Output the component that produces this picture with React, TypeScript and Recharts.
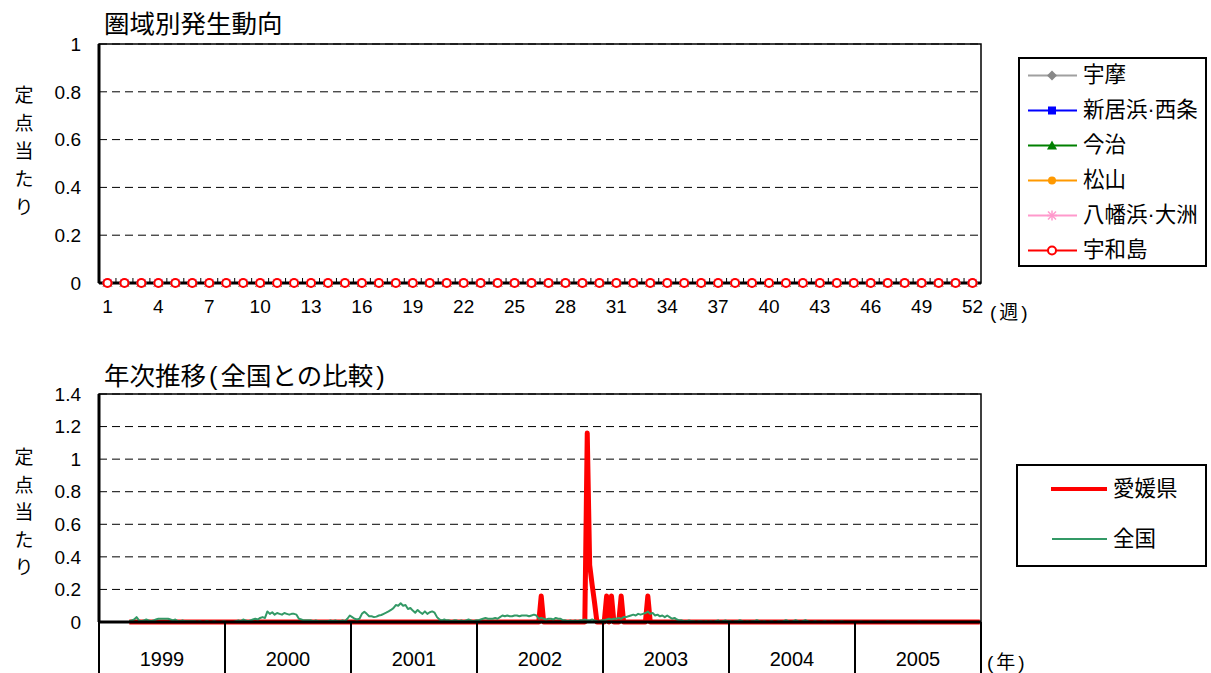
import React from "react";
import { CartesianGrid, Line, LineChart, ReferenceArea, XAxis, YAxis } from "recharts";

const FONT = '"Liberation Sans", "Noto Sans CJK JP", sans-serif';

// ---- 圏域別発生動向 (週別, 全圏域とも 0) ----
const WEEKS = [
  1, 2, 3, 4, 5, 6, 7, 8, 9, 10, 11, 12, 13, 14, 15, 16, 17, 18, 19, 20, 21, 22, 23, 24, 25, 26,
  27, 28, 29, 30, 31, 32, 33, 34, 35, 36, 37, 38, 39, 40, 41, 42, 43, 44, 45, 46, 47, 48, 49, 50, 51, 52,
];
const AREA_NAMES = ["宇摩", "新居浜·西条", "今治", "松山", "八幡浜·大洲", "宇和島"];
const UMA = [
  0, 0, 0, 0, 0, 0, 0, 0, 0, 0, 0, 0, 0, 0, 0, 0, 0, 0, 0, 0, 0, 0, 0, 0, 0, 0,
  0, 0, 0, 0, 0, 0, 0, 0, 0, 0, 0, 0, 0, 0, 0, 0, 0, 0, 0, 0, 0, 0, 0, 0, 0, 0,
];
const NIIHAMA_SAIJO = [
  0, 0, 0, 0, 0, 0, 0, 0, 0, 0, 0, 0, 0, 0, 0, 0, 0, 0, 0, 0, 0, 0, 0, 0, 0, 0,
  0, 0, 0, 0, 0, 0, 0, 0, 0, 0, 0, 0, 0, 0, 0, 0, 0, 0, 0, 0, 0, 0, 0, 0, 0, 0,
];
const IMABARI = [
  0, 0, 0, 0, 0, 0, 0, 0, 0, 0, 0, 0, 0, 0, 0, 0, 0, 0, 0, 0, 0, 0, 0, 0, 0, 0,
  0, 0, 0, 0, 0, 0, 0, 0, 0, 0, 0, 0, 0, 0, 0, 0, 0, 0, 0, 0, 0, 0, 0, 0, 0, 0,
];
const MATSUYAMA = [
  0, 0, 0, 0, 0, 0, 0, 0, 0, 0, 0, 0, 0, 0, 0, 0, 0, 0, 0, 0, 0, 0, 0, 0, 0, 0,
  0, 0, 0, 0, 0, 0, 0, 0, 0, 0, 0, 0, 0, 0, 0, 0, 0, 0, 0, 0, 0, 0, 0, 0, 0, 0,
];
const YAWATAHAMA_OZU = [
  0, 0, 0, 0, 0, 0, 0, 0, 0, 0, 0, 0, 0, 0, 0, 0, 0, 0, 0, 0, 0, 0, 0, 0, 0, 0,
  0, 0, 0, 0, 0, 0, 0, 0, 0, 0, 0, 0, 0, 0, 0, 0, 0, 0, 0, 0, 0, 0, 0, 0, 0, 0,
];
const UWAJIMA = [
  0, 0, 0, 0, 0, 0, 0, 0, 0, 0, 0, 0, 0, 0, 0, 0, 0, 0, 0, 0, 0, 0, 0, 0, 0, 0,
  0, 0, 0, 0, 0, 0, 0, 0, 0, 0, 0, 0, 0, 0, 0, 0, 0, 0, 0, 0, 0, 0, 0, 0, 0, 0,
];
const WEEKLY_TICKS = [0, 0.2, 0.4, 0.6, 0.8, 1];

// ---- 年次推移 (全国との比較) ----
const YEARS = ["1999", "2000", "2001", "2002", "2003", "2004", "2005"];
const N = null;
const EHIME_1999 = [
  N, N, N, N, N, N, N, N, N, N,
  N, N, 0, 0, 0, 0, 0, 0, 0, 0,
  0, 0, 0, 0, 0, 0, 0, 0, 0, 0,
  0, 0, 0, 0, 0, 0, 0, 0, 0, 0,
  0, 0, 0, 0, 0, 0, 0, 0, 0, 0,
  0, 0,
];
const EHIME_2000 = [
  0, 0, 0, 0, 0, 0, 0, 0, 0, 0, 0, 0, 0, 0, 0, 0, 0, 0, 0, 0, 0, 0, 0, 0, 0, 0,
  0, 0, 0, 0, 0, 0, 0, 0, 0, 0, 0, 0, 0, 0, 0, 0, 0, 0, 0, 0, 0, 0, 0, 0, 0, 0,
];
const EHIME_2001 = [
  0, 0, 0, 0, 0, 0, 0, 0, 0, 0, 0, 0, 0, 0, 0, 0, 0, 0, 0, 0, 0, 0, 0, 0, 0, 0,
  0, 0, 0, 0, 0, 0, 0, 0, 0, 0, 0, 0, 0, 0, 0, 0, 0, 0, 0, 0, 0, 0, 0, 0, 0, 0,
];
const EHIME_2002 = [
  0, 0, 0, 0, 0, 0, 0, 0, 0, 0,
  0, 0, 0, 0, 0, 0, 0, 0, 0, 0,
  0, 0, 0, 0, 0, 0, 0.16, 0, 0, 0,
  0, 0, 0, 0, 0, 0, 0, 0, 0, 0,
  0, 0, 0, 0, 0, 1.16, 0.35, 0.23, 0.12, 0,
  0, 0,
];
const EHIME_2003 = [
  0, 0.16, 0, 0.16, 0, 0, 0, 0.16, 0, 0,
  0, 0, 0, 0, 0, 0, 0, 0, 0.16, 0,
  0, 0, 0, 0, 0, 0, 0, 0, 0, 0,
  0, 0, 0, 0, 0, 0, 0, 0, 0, 0,
  0, 0, 0, 0, 0, 0, 0, 0, 0, 0,
  0, 0,
];
const EHIME_2004 = [
  0, 0, 0, 0, 0, 0, 0, 0, 0, 0, 0, 0, 0, 0, 0, 0, 0, 0, 0, 0, 0, 0, 0, 0, 0, 0,
  0, 0, 0, 0, 0, 0, 0, 0, 0, 0, 0, 0, 0, 0, 0, 0, 0, 0, 0, 0, 0, 0, 0, 0, 0, 0,
];
const EHIME_2005 = [
  0, 0, 0, 0, 0, 0, 0, 0, 0, 0, 0, 0, 0, 0, 0, 0, 0, 0, 0, 0, 0, 0, 0, 0, 0, 0,
  0, 0, 0, 0, 0, 0, 0, 0, 0, 0, 0, 0, 0, 0, 0, 0, 0, 0, 0, 0, 0, 0, 0, 0, 0, 0,
];

const ZENKOKU_1999 = [
  N, N, N, N, N, N, N, N, N, N,
  N, N, 0.005, 0.01, 0.015, 0.03, 0.01, 0.005, 0.01, 0.015,
  0.01, 0.005, 0.01, 0.015, 0.02, 0.02, 0.02, 0.02, 0.02, 0.015,
  0.01, 0.015, 0.005, 0.005, 0.01, 0.005, 0.005, 0.005, 0.005, 0.005,
  0, 0.005, 0, 0, 0.005, 0, 0, 0.005, 0, 0,
  0, 0.005,
];
const ZENKOKU_2000 = [
  0, 0, 0, 0, 0.005, 0.01, 0.005, 0.015, 0.01, 0.005,
  0.01, 0.015, 0.02, 0.015, 0.025, 0.03, 0.025, 0.065, 0.05, 0.06,
  0.045, 0.055, 0.05, 0.045, 0.055, 0.05, 0.045, 0.05, 0.05, 0.045,
  0.02, 0.015, 0.01, 0.01, 0.01, 0.01, 0.005, 0.01, 0.005, 0.005,
  0.005, 0.005, 0.005, 0.01, 0.005, 0.01, 0.005, 0.005, 0.01, 0.005,
  0.02, 0.04,
];
const ZENKOKU_2001 = [
  0.03, 0.02, 0.015, 0.02, 0.05, 0.063, 0.05, 0.035, 0.035, 0.03,
  0.033, 0.04, 0.043, 0.05, 0.057, 0.065, 0.074, 0.085, 0.104, 0.1,
  0.115, 0.1, 0.104, 0.08, 0.086, 0.07, 0.057, 0.074, 0.06, 0.05,
  0.065, 0.05, 0.06, 0.065, 0.057, 0.03, 0.015, 0.01, 0.015, 0.01,
  0.01, 0.005, 0.01, 0.01, 0.005, 0.01, 0.005, 0.01, 0.015, 0.01,
  0.005, 0.01,
];
const ZENKOKU_2002 = [
  0.01, 0.015, 0.02, 0.025, 0.02, 0.02, 0.02, 0.025, 0.02, 0.03,
  0.04, 0.035, 0.04, 0.035, 0.035, 0.04, 0.04, 0.035, 0.04, 0.04,
  0.04, 0.035, 0.04, 0.045, 0.04, 0.02, 0.025, 0.02, 0.015, 0.02,
  0.02, 0.015, 0.025, 0.02, 0.02, 0.01, 0.01, 0.005, 0.01, 0.005,
  0.01, 0.005, 0.01, 0.01, 0.015, 0.01, 0.01, 0.015, 0.01, 0.005,
  0, 0.01,
];
const ZENKOKU_2003 = [
  0.01, 0.015, 0.02, 0.015, 0.02, 0.02, 0.025, 0.02, 0.03, 0.03,
  0.035, 0.04, 0.045, 0.04, 0.05, 0.045, 0.05, 0.055, 0.064, 0.05,
  0.055, 0.04, 0.045, 0.035, 0.04, 0.03, 0.04, 0.03, 0.02, 0.025,
  0.015, 0.01, 0.01, 0.005, 0.005, 0.01, 0.005, 0.005, 0, 0.005,
  0.005, 0, 0.005, 0, 0.005, 0, 0.005, 0.01, 0, 0.005,
  0.01, 0.005,
];
const ZENKOKU_2004 = [
  0.005, 0, 0.005, 0.005, 0.012, 0.005, 0, 0.005, 0, 0.005,
  0.005, 0.012, 0.005, 0, 0.005, 0, 0, 0.005, 0, 0,
  0.005, 0, 0.005, 0.012, 0.005, 0, 0.005, 0.012, 0.005, 0,
  0.005, 0.012, 0.005, 0, 0, 0.005, 0, 0, 0, 0.005,
  0, 0, 0.005, 0, 0, 0, 0.005, 0, 0, 0,
  0, 0,
];
const ZENKOKU_2005 = [
  0, 0, 0.003, 0, 0, 0, 0.003, 0, 0, 0,
  0, 0, 0, 0.003, 0, 0, 0, 0, 0, 0,
  0, 0, 0, 0, 0, 0, 0.003, 0, 0, 0,
  0, 0, 0, 0, 0, 0, 0, 0, 0, 0,
  0, 0, 0, 0, 0, 0, 0, 0, 0, 0,
  0, 0,
];
const YEARLY_TICKS = [0, 0.2, 0.4, 0.6, 0.8, 1, 1.2, 1.4];

const AREA_VALUES = [UMA, NIIHAMA_SAIJO, IMABARI, MATSUYAMA, YAWATAHAMA_OZU, UWAJIMA];
const weeklyRows = WEEKS.map((w, i) => {
  const row: Record<string, number | string> = { week: String(w) };
  AREA_VALUES.forEach((arr, k) => (row["a" + k] = arr[i]));
  return row;
});

const EHIME = [EHIME_1999, EHIME_2000, EHIME_2001, EHIME_2002, EHIME_2003, EHIME_2004, EHIME_2005].flat();
const ZENKOKU = [ZENKOKU_1999, ZENKOKU_2000, ZENKOKU_2001, ZENKOKU_2002, ZENKOKU_2003, ZENKOKU_2004, ZENKOKU_2005].flat();
const WEEKS_PER_YEAR = 52;
const yearlyRows = EHIME.map((v, i) => ({ x: i + 0.5, ehime: v, zenkoku: ZENKOKU[i] }));
const yearBounds = YEARS.map((_, i) => i * WEEKS_PER_YEAR).concat(YEARS.length * WEEKS_PER_YEAR);

// styles for the six areas
const AREA_STYLE = [
  { color: "#a0a0a0", mark: "#888888", kind: "diamond" },
  { color: "#0000ff", mark: "#0000ff", kind: "square" },
  { color: "#008000", mark: "#008000", kind: "triangle" },
  { color: "#ff9900", mark: "#ff9900", kind: "circle" },
  { color: "#ff99cc", mark: "#ff99cc", kind: "star" },
  { color: "#ff0000", mark: "#ff0000", kind: "open" },
];

const PLOT_W = 882; // 99 -> 981

function Marker({ kind, cx, cy, color }: { kind: string; cx: number; cy: number; color: string }) {
  if (cx == null || cy == null) return null;
  switch (kind) {
    case "diamond":
      return <polygon points={`${cx},${cy - 5} ${cx + 5},${cy} ${cx},${cy + 5} ${cx - 5},${cy}`} fill={color} />;
    case "square":
      return <rect x={cx - 4} y={cy - 4} width={8} height={8} fill={color} />;
    case "triangle":
      return <polygon points={`${cx},${cy - 5} ${cx + 5},${cy + 4} ${cx - 5},${cy + 4}`} fill={color} />;
    case "circle":
      return <circle cx={cx} cy={cy} r={4} fill={color} />;
    case "star":
      return (
        <g stroke={color} strokeWidth={1.5}>
          <line x1={cx} y1={cy - 5} x2={cx} y2={cy + 5} />
          <line x1={cx - 5} y1={cy} x2={cx + 5} y2={cy} />
          <line x1={cx - 4} y1={cy - 4} x2={cx + 4} y2={cy + 4} />
          <line x1={cx - 4} y1={cy + 4} x2={cx + 4} y2={cy - 4} />
        </g>
      );
    default:
      return <circle cx={cx} cy={cy} r={4} fill="#fff" stroke={color} strokeWidth={2} />;
  }
}

function WeekTick(props: any) {
  const { x, y, payload, index } = props;
  const axisY = y - 17;
  const half = PLOT_W / WEEKS.length / 2;
  return (
    <g>
      <line x1={x - half} y1={axisY} x2={x - half} y2={axisY - 5} stroke="#000" strokeWidth={1} />
      {index % 3 === 0 && (
        <text x={x} y={y} dy="0.71em" textAnchor="middle" fontSize={19} fontFamily={FONT} fill="#000">
          {payload.value}
        </text>
      )}
    </g>
  );
}

function YearTick(props: any) {
  const { x, y, payload } = props;
  const k = Math.round(payload.value / WEEKS_PER_YEAR);
  const half = PLOT_W / YEARS.length / 2;
  return (
    <g>
      <line x1={x} y1={y} x2={x} y2={y + 51} stroke="#000" strokeWidth={2} />
      {k < YEARS.length && (
        <text x={x + half} y={y + 37} dy="0.35em" textAnchor="middle" fontSize={20} fontFamily={FONT} fill="#000">
          {YEARS[k]}
        </text>
      )}
    </g>
  );
}

const yTick = { fontSize: 19, fontFamily: FONT, fill: "#000" };

function VerticalLabel({ left, top, step }: { left: number; top: number; step: number }) {
  return (
    <div style={{ position: "absolute", left, top, width: 24, textAlign: "center", fontSize: 19, lineHeight: `${step}px` }}>
      {"定点当たり".split("").map((c, i) => (
        <div key={i}>{c}</div>
      ))}
    </div>
  );
}

function WeeklyChart() {
  return (
    <LineChart width={1211} height={330} data={weeklyRows} margin={{ top: 44, right: 230, bottom: 0, left: 0 }}>
      <CartesianGrid vertical={false} stroke="#000" strokeDasharray="8 5" />
      <ReferenceArea y1={0} y2={1} fill="none" stroke="#000" strokeWidth={1.5} ifOverflow="visible" />
      <XAxis
        dataKey="week"
        scale="band"
        interval={0}
        height={47}
        tickSize={6}
        tickMargin={11}
        tickLine={false}
        tick={<WeekTick />}
        axisLine={{ stroke: "#000", strokeWidth: 3 }}
      />
      <YAxis
        domain={[0, 1]}
        ticks={WEEKLY_TICKS}
        width={99}
        tickLine={false}
        tickSize={6}
        tickMargin={12}
        tick={yTick}
        axisLine={{ stroke: "#000", strokeWidth: 3 }}
      />
      {AREA_STYLE.map((s, k) => (
        <Line
          key={k}
          dataKey={"a" + k}
          name={AREA_NAMES[k]}
          stroke={s.color}
          strokeWidth={2}
          isAnimationActive={false}
          dot={(p: any) => <Marker key={`m${k}-${p.index}`} kind={s.kind} cx={p.cx} cy={p.cy} color={s.mark} />}
        />
      ))}
    </LineChart>
  );
}

function YearlyChart() {
  return (
    <LineChart width={1211} height={323} data={yearlyRows} margin={{ top: 44, right: 230, bottom: 0, left: 0 }}>
      <CartesianGrid vertical={false} stroke="#000" strokeDasharray="8 5" />
      <ReferenceArea y1={0} y2={1.4} fill="none" stroke="#000" strokeWidth={1.5} ifOverflow="visible" />
      <XAxis
        dataKey="x"
        type="number"
        domain={[0, YEARS.length * WEEKS_PER_YEAR]}
        ticks={yearBounds}
        interval={0}
        height={51}
        tickSize={0}
        tickMargin={0}
        tickLine={false}
        tick={<YearTick />}
        axisLine={{ stroke: "#000", strokeWidth: 3 }}
      />
      <YAxis
        domain={[0, 1.4]}
        ticks={YEARLY_TICKS}
        width={99}
        tickLine={false}
        tickSize={6}
        tickMargin={12}
        tick={yTick}
        axisLine={{ stroke: "#000", strokeWidth: 3 }}
      />
      <Line
        dataKey="ehime"
        name="愛媛県"
        stroke="#ff0000"
        strokeWidth={5}
        strokeLinejoin="round"
        dot={false}
        isAnimationActive={false}
      />
      <Line dataKey="zenkoku" name="全国" stroke="#339966" strokeWidth={2} strokeLinejoin="round" dot={false} isAnimationActive={false} />
    </LineChart>
  );
}

const paren = { margin: "0 3px" };

export default function App() {
  return (
    <div style={{ position: "absolute", left: 0, top: 0, width: 1211, height: 673, background: "#fff", fontFamily: FONT, color: "#000", overflow: "hidden" }}>
      <div style={{ position: "absolute", left: 0, top: 0 }}>
        <WeeklyChart />
      </div>
      <div style={{ position: "absolute", left: 0, top: 350 }}>
        <YearlyChart />
      </div>

      <div style={{ position: "absolute", left: 104, top: 10, fontSize: 25.5, lineHeight: "28px", whiteSpace: "nowrap" }}>圏域別発生動向</div>
      <div style={{ position: "absolute", left: 104, top: 362, fontSize: 25.5, lineHeight: "28px", whiteSpace: "nowrap" }}>
        年次推移<span style={paren}>(</span>全国との比較<span style={paren}>)</span>
      </div>

      <VerticalLabel left={12} top={82} step={28} />
      <VerticalLabel left={12} top={444} step={27.5} />

      <div style={{ position: "absolute", left: 990, top: 297, fontSize: 19, whiteSpace: "nowrap" }}>
        (<span style={paren}>週</span>)
      </div>
      <div style={{ position: "absolute", left: 987, top: 647, fontSize: 19, whiteSpace: "nowrap" }}>
        (<span style={paren}>年</span>)
      </div>

      <div style={{ position: "absolute", left: 1018, top: 57, width: 189, height: 210, border: "2px solid #000", boxSizing: "border-box" }}>
        {AREA_STYLE.map((s, k) => (
          <div key={k} style={{ position: "absolute", left: 0, top: -1.5 + k * 35, height: 35, width: 185 }}>
            <svg width={52} height={35} style={{ position: "absolute", left: 8, top: 0 }}>
              <line x1={0} y1={17.5} x2={49} y2={17.5} stroke={s.color} strokeWidth={2} />
              <Marker kind={s.kind} cx={24} cy={17.5} color={s.mark} />
            </svg>
            <div style={{ position: "absolute", left: 63, top: 0, lineHeight: "35px", fontSize: 21.5, whiteSpace: "nowrap" }}>
              {AREA_NAMES[k]}
            </div>
          </div>
        ))}
      </div>

      <div style={{ position: "absolute", left: 1016, top: 464, width: 191, height: 103, border: "2px solid #000", boxSizing: "border-box" }}>
        <svg width={60} height={100} style={{ position: "absolute", left: 33, top: 0 }}>
          <line x1={0} y1={23} x2={56} y2={23} stroke="#ff0000" strokeWidth={4} />
          <line x1={1} y1={73} x2={56} y2={73} stroke="#339966" strokeWidth={2} />
        </svg>
        <div style={{ position: "absolute", left: 95, top: 8, lineHeight: "30px", fontSize: 21.5 }}>愛媛県</div>
        <div style={{ position: "absolute", left: 95, top: 58, lineHeight: "30px", fontSize: 21.5 }}>全国</div>
      </div>
    </div>
  );
}
